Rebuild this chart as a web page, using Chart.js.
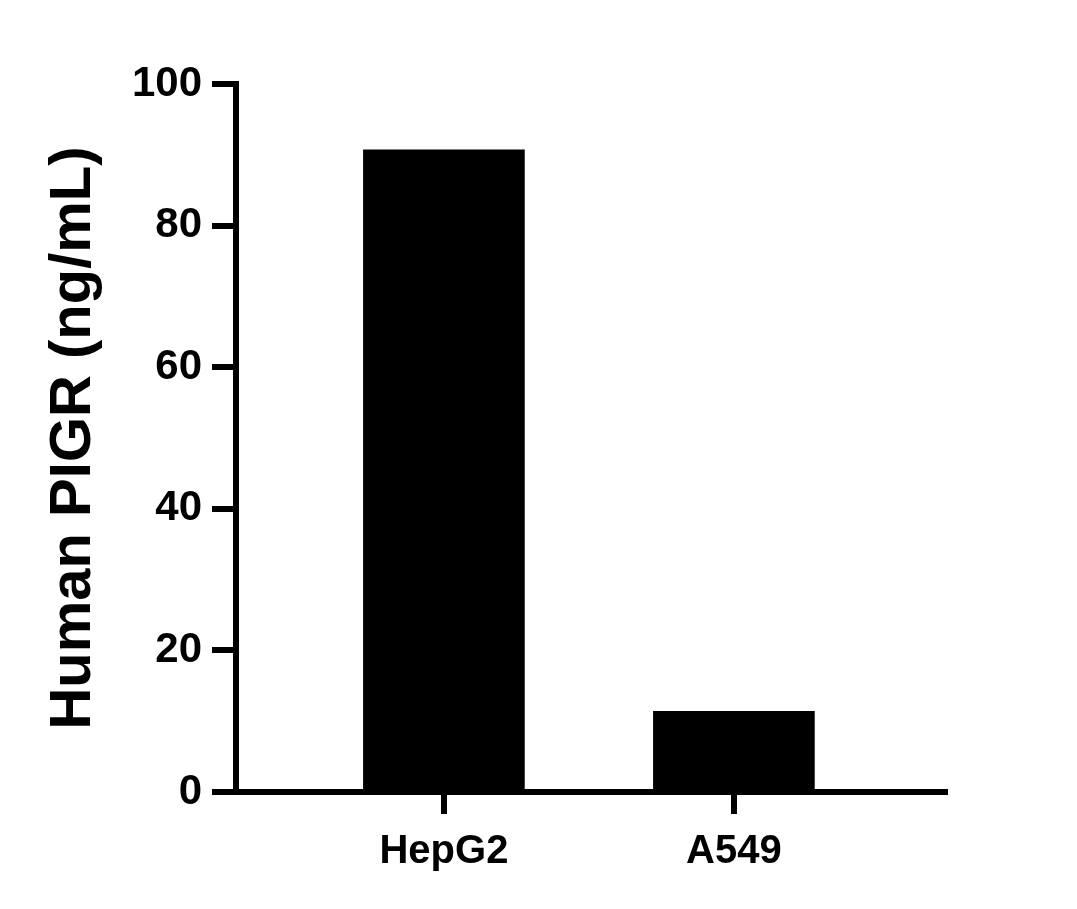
<!DOCTYPE html>
<html>
<head>
<meta charset="utf-8">
<script src="https://cdn.jsdelivr.net/npm/chart.js@4"></script>
<style>
  html, body { margin: 0; padding: 0; background: #fff; }
  #wrap { width: 1077px; height: 909px; }
</style>
</head>
<body>
<div id="wrap"><canvas id="pigrChart" width="1077" height="909"></canvas></div>
<script>
// values
const cellLines = ['HepG2', 'A549'];
const pigrValues = [90.7, 11.4];
const yTicks = [0, 20, 40, 60, 80, 100];

const FONT = '"Liberation Sans", Arial, Helvetica, sans-serif';

const ctx = document.getElementById('pigrChart').getContext('2d');

const pigrChart = new Chart(ctx, {
    type: 'bar',
    data: {
        datasets: [{
            label: 'Human PIGR',
            data: cellLines.map((name, i) => ({ x: i, y: pigrValues[i] })),
            backgroundColor: '#000',
            borderWidth: 0,
            barThickness: 161
        }]
    },
    options: {
        responsive: false,
        animation: false,
        layout: { padding: { top: 84, right: 132, left: 0, bottom: 0 } },
        plugins: {
            legend: { display: false },
            tooltip: { enabled: false }
        },
        scales: {
            x: {
                type: 'linear',
                offset: false,
                min: -0.717,
                max: 1.728,
                afterFit: (scale) => { scale.height = 117; },
                afterBuildTicks: (scale) => {
                    scale.ticks = cellLines.map((_, i) => ({ value: i }));
                },
                grid: {
                    offset: false,
                    drawOnChartArea: false,
                    drawTicks: true,
                    tickLength: 22,
                    lineWidth: 6,
                    color: '#000'
                },
                border: { display: true, width: 6, color: '#000' },
                ticks: {
                    padding: 14,
                    color: '#000',
                    font: { family: FONT, size: 40, weight: 'bold' },
                    callback: (v) => cellLines[v] ?? ''
                }
            },
            y: {
                min: 0,
                max: 100,
                afterFit: (scale) => { scale.width = 236; },
                afterBuildTicks: (scale) => {
                    scale.ticks = yTicks.map(v => ({ value: v }));
                },
                grid: {
                    drawOnChartArea: false,
                    drawTicks: true,
                    tickLength: 24,
                    lineWidth: 6,
                    color: '#000'
                },
                border: { display: true, width: 6, color: '#000' },
                ticks: {
                    padding: 10,
                    color: '#000',
                    font: { family: FONT, size: 42, weight: 'bold' }
                },
                title: {
                    display: true,
                    text: 'Human PIGR (ng/mL)',
                    color: '#000',
                    font: { family: FONT, size: 58, weight: 'bold', lineHeight: 1 },
                    padding: { top: 45, bottom: 0 }
                }
            }
        }
    }
});
</script>
</body>
</html>
